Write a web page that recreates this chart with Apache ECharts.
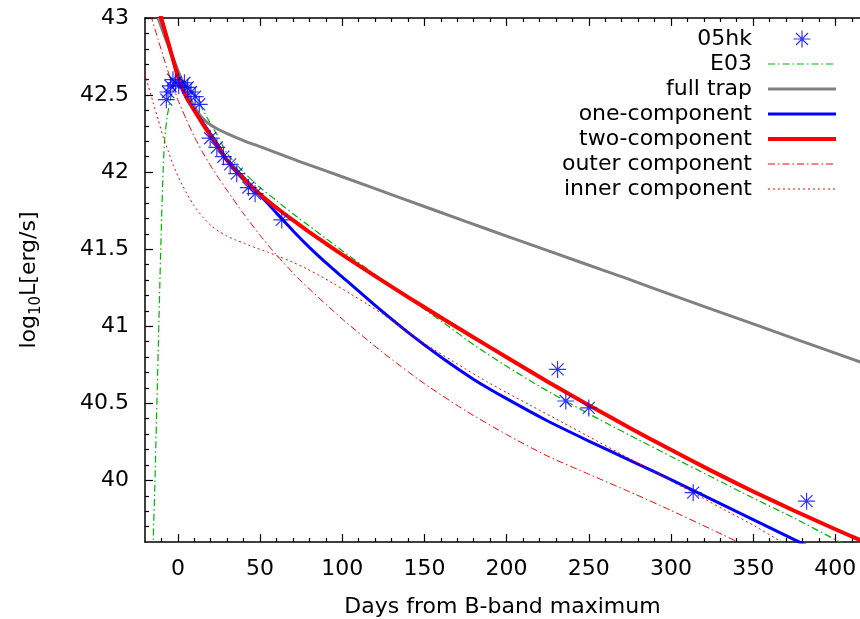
<!DOCTYPE html>
<html><head><meta charset="utf-8">
<script src="https://cdn.jsdelivr.net/npm/echarts@6/dist/echarts.min.js"></script>
<style>html,body{margin:0;padding:0;background:#fff}#c{width:860px;height:619px}</style>
</head><body><div id="c"></div>
<script>
const FONT = 'DejaVu Sans';
// 05hk observations
const obsDays = [-7, -6, -4.5, -3, -1.5, 0.5, 4, 6, 8, 10.5, 13, 19.6, 23.7, 27.7, 31.8, 35.8, 42.9, 47, 63.2, 231, 236, 250, 313.5, 382.5];
const obsLum  = [42.47, 42.52, 42.56, 42.60, 42.58, 42.56, 42.58, 42.55, 42.52, 42.49, 42.44, 42.22, 42.16, 42.10, 42.05, 41.99, 41.90, 41.86, 41.69, 40.72, 40.515, 40.47, 39.92, 39.865];
// E03
const e03Days = [-15.2, -14, -13, -12, -11, -10, -9, -8, -6.5, -5, -3.5, -1.5, 1, 3, 6, 10, 14, 18, 24, 30, 40, 50, 60, 70, 80, 90, 100, 120, 140, 160, 180, 200, 220, 240, 260, 280, 300, 325, 350, 375, 400, 405];
const e03Lum  = [39.55, 39.97, 40.40, 40.83, 41.26, 41.67, 42.0, 42.22, 42.36, 42.45, 42.53, 42.585, 42.605, 42.60, 42.57, 42.51, 42.43, 42.35, 42.24, 42.12, 42.00, 41.90, 41.815, 41.73, 41.65, 41.57, 41.49, 41.335, 41.185, 41.035, 40.88, 40.74, 40.61, 40.49, 40.375, 40.265, 40.155, 40.02, 39.885, 39.755, 39.615, 39.59];
// full trap
const trapDays = [-12, -8, -4, 0, 4, 8, 12, 16, 20, 25, 30, 40, 50, 75, 100, 135, 175, 200, 245, 273, 300, 350, 400, 416];
const trapLum  = [43.0, 42.88, 42.77, 42.66, 42.56, 42.465, 42.39, 42.34, 42.305, 42.275, 42.25, 42.205, 42.165, 42.065, 41.97, 41.835, 41.68, 41.585, 41.415, 41.31, 41.205, 41.015, 40.825, 40.765];
// one-component
const oneDays = [-12, -8, -4, -2, 0, 2, 4, 6, 8, 10, 15, 20, 25, 30, 40, 50, 60, 70, 80, 90, 100, 120, 140, 160, 180, 200, 225, 250, 275, 300, 325, 350, 375, 390];
const oneLum  = [43.07, 42.92, 42.77, 42.695, 42.62, 42.56, 42.51, 42.47, 42.435, 42.40, 42.325, 42.245, 42.165, 42.08, 41.965, 41.85, 41.735, 41.62, 41.512, 41.413, 41.32, 41.135, 40.96, 40.80, 40.655, 40.53, 40.385, 40.255, 40.13, 40.005, 39.875, 39.745, 39.615, 39.54];
// two-component
const twoDays = [-12, -8, -4, -2, 0, 2, 4, 6, 8, 10, 15, 20, 25, 30, 40, 50, 60, 70, 80, 90, 100, 120, 140, 160, 180, 200, 225, 250, 275, 300, 325, 350, 375, 400, 416];
const twoLum  = [43.07, 42.92, 42.77, 42.695, 42.62, 42.56, 42.51, 42.47, 42.435, 42.40, 42.315, 42.235, 42.155, 42.075, 41.955, 41.857, 41.769, 41.688, 41.611, 41.537, 41.465, 41.325, 41.189, 41.057, 40.927, 40.799, 40.64, 40.488, 40.34, 40.198, 40.06, 39.928, 39.803, 39.683, 39.608];
// outer component
const outerDays = [-16.5, -12, -8, -4, 0, 5, 10, 15, 20, 25, 30, 40, 50, 60, 75, 100, 125, 150, 175, 200, 225, 250, 275, 300, 325, 345];
const outerLum  = [43.02, 42.86, 42.72, 42.59, 42.47, 42.345, 42.23, 42.13, 42.04, 41.958, 41.88, 41.73, 41.59, 41.462, 41.292, 41.047, 40.827, 40.627, 40.452, 40.297, 40.157, 40.04, 39.925, 39.805, 39.68, 39.578];
// inner component
const innerDays = [-21, -18, -15, -12, -9, -6, -3, 0, 3, 6, 10, 15, 20, 25, 30, 35, 40, 47, 55, 62, 70, 78, 86, 95, 105, 115, 125, 135, 145, 155, 170, 188, 200, 214, 235, 255, 275, 295, 315, 335, 350, 365, 372];
const innerLum  = [42.67, 42.56, 42.45, 42.34, 42.23, 42.14, 42.05, 41.975, 41.91, 41.85, 41.78, 41.71, 41.655, 41.615, 41.585, 41.56, 41.54, 41.51, 41.48, 41.45, 41.415, 41.375, 41.33, 41.275, 41.21, 41.145, 41.075, 41.00, 40.925, 40.855, 40.755, 40.64, 40.57, 40.49, 40.37, 40.255, 40.14, 40.025, 39.91, 39.795, 39.71, 39.615, 39.58];

const xMajor = [0, 50, 100, 150, 200, 250, 300, 350, 400];
const xMinor = [-10, 10, 20, 30, 40, 60, 70, 80, 90, 110, 120, 130, 140, 160, 170, 180, 190, 210, 220, 230, 240, 260, 270, 280, 290, 310, 320, 330, 340, 360, 370, 380, 390, 410];
const yMajor = [40, 40.5, 41, 41.5, 42, 42.5, 43];
const yMinor = [39.7, 39.8, 39.9, 40.1, 40.2, 40.3, 40.4, 40.6, 40.7, 40.8, 40.9, 41.1, 41.2, 41.3, 41.4, 41.6, 41.7, 41.8, 41.9, 42.1, 42.2, 42.3, 42.4, 42.6, 42.7, 42.8, 42.9];

const zip = (a, b) => a.map((v, i) => [v, b[i]]);
const star = 'path://M0 -10L0 10M-10 0L10 0M-7.07 -7.07L7.07 7.07M-7.07 7.07L7.07 -7.07';
const black = '#000';
const tickStyle = {color: black, width: 1.2};

function xAx(pos, major, showLine, showLabel) {
  const a = {
    type: 'value', min: -20, max: 415, position: pos, splitLine: {show: false},
    axisLine: {show: showLine, onZero: false, lineStyle: {color: black, width: 1.5}},
    axisTick: {show: true, inside: true, length: major ? 8 : 4, customValues: major ? xMajor : xMinor, lineStyle: tickStyle},
    axisLabel: {show: showLabel, customValues: xMajor, fontSize: 22, color: black, fontFamily: FONT, margin: 16}
  };
  if (showLabel) {
    a.name = 'Days from B-band maximum';
    a.nameLocation = 'middle';
    a.nameGap = 54;
    a.nameTextStyle = {fontSize: 22, color: black, fontFamily: FONT};
  }
  return a;
}
function yAx(major, showLine, showLabel) {
  const a = {
    type: 'value', min: 39.6, max: 43, position: 'left', splitLine: {show: false},
    axisLine: {show: showLine, onZero: false, lineStyle: {color: black, width: 1.5}},
    axisTick: {show: true, inside: true, length: major ? 8 : 4, customValues: major ? yMajor : yMinor, lineStyle: tickStyle},
    axisLabel: {show: showLabel, customValues: yMajor, fontSize: 22, color: black, fontFamily: FONT, margin: 16}
  };
  if (showLabel) {
    a.name = '{m|log}{s|10}{m|L[erg/s]}';
    a.nameLocation = 'middle';
    a.nameGap = 101;
    a.nameRotate = 90;
    a.nameTextStyle = {fontSize: 22, color: black, fontFamily: FONT,
      rich: {m: {fontSize: 22, fontFamily: FONT, color: black, lineHeight: 30},
             s: {fontSize: 15, fontFamily: FONT, color: black, verticalAlign: 'bottom', lineHeight: 30}}};
  }
  return a;
}

function lineSeries(name, days, lum, color, width, type) {
  return {
    name, type: 'line', data: zip(days, lum), symbol: 'none', showSymbol: false,
    smooth: 0.2, clip: true, z: 2,
    lineStyle: {color, width, type: type || 'solid'},
    itemStyle: {color}
  };
}

const chart = echarts.init(document.getElementById('c'), null, {renderer: 'canvas'});
chart.setOption({
  animation: false,
  backgroundColor: '#fff',
  grid: {left: 145, top: 18, right: 0, bottom: 77, containLabel: false, outerBoundsMode: 'none'},
  xAxis: [xAx('bottom', true, true, true), xAx('bottom', false, false, false), xAx('top', true, true, false), xAx('top', false, false, false)],
  yAxis: [yAx(true, true, true), yAx(false, false, false)],
  legend: {
    orient: 'vertical', right: 17, top: 23, align: 'right',
    itemWidth: 68, itemHeight: 17, itemGap: 3,
    textStyle: {fontSize: 22, color: black, fontFamily: FONT, padding: [0, 11, 0, 0]},
    selectedMode: false,
    data: [
      {name: '05hk', itemStyle: {borderWidth: 1.2}},
      {name: 'E03', itemStyle: {opacity: 0}, lineStyle: {width: 1.2}},
      {name: 'full trap', itemStyle: {opacity: 0}, lineStyle: {width: 3}},
      {name: 'one-component', itemStyle: {opacity: 0}, lineStyle: {width: 3}},
      {name: 'two-component', itemStyle: {opacity: 0}, lineStyle: {width: 4}},
      {name: 'outer component', itemStyle: {opacity: 0}, lineStyle: {width: 1}},
      {name: 'inner component', itemStyle: {opacity: 0}, lineStyle: {width: 1}}
    ]
  },
  series: [
    {name: '05hk', type: 'scatter', data: zip(obsDays, obsLum), symbol: star, symbolSize: 17, symbolKeepAspect: true, z: 5,
     itemStyle: {color: 'transparent', borderColor: '#0000ff', borderWidth: 1.2}},
    lineSeries('E03', e03Days, e03Lum, '#00b400', 1.2, [7, 3, 1.5, 3]),
    lineSeries('full trap', trapDays, trapLum, '#808080', 3),
    lineSeries('one-component', oneDays, oneLum, '#0000ff', 3),
    lineSeries('two-component', twoDays, twoLum, '#ff0000', 4),
    lineSeries('outer component', outerDays, outerLum, '#ff0000', 1, [7, 3, 1.5, 3]),
    lineSeries('inner component', innerDays, innerLum, '#ff0000', 1, [2, 3])
  ]
});
</script></body></html>
